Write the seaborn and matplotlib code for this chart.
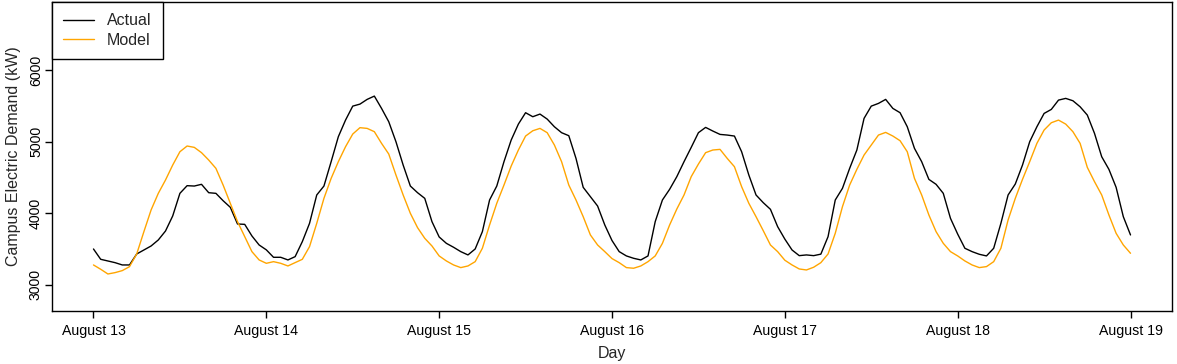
import pandas as pd
import numpy as np
import matplotlib.pyplot as plt
import matplotlib.dates as mdates
import seaborn as sns

# hourly campus demand (kW), Aug 13 00:00 -> Aug 19 00:00
actual = [
    3502, 3358, 3335, 3311, 3279, 3279, 3432, 3488, 3544, 3628, 3753, 3963,
    4279, 4386, 4381, 4405, 4288, 4279, 4176, 4084, 3851, 3846, 3684, 3558,
    3490, 3386, 3386, 3349, 3395, 3605, 3860, 4256, 4381, 4721, 5070, 5302,
    5497, 5525, 5591, 5637, 5465, 5279, 5000, 4674, 4381, 4288, 4209, 3884,
    3670, 3581, 3526, 3465, 3419, 3502, 3744, 4186, 4381, 4721, 5023, 5246,
    5405, 5349, 5386, 5316, 5209, 5126, 5084, 4767, 4363, 4232, 4102, 3837,
    3620, 3465, 3405, 3372, 3349, 3405, 3884, 4186, 4335, 4512, 4721, 4921,
    5126, 5200, 5149, 5102, 5093, 5079, 4860, 4535, 4256, 4149, 4056, 3814,
    3640, 3488, 3409, 3419, 3409, 3430, 3674, 4186, 4349, 4628, 4884, 5326,
    5497, 5535, 5591, 5465, 5405, 5209, 4907, 4721, 4474, 4405, 4279, 3930,
    3710, 3512, 3465, 3428, 3405, 3512, 3860, 4256, 4409, 4674, 5000, 5209,
    5395, 5451, 5581, 5605, 5572, 5488, 5372, 5116, 4790, 4614, 4363, 3953,
    3698,
]
model = [
    3279, 3219, 3153, 3172, 3200, 3255, 3432, 3744, 4047, 4279, 4465, 4674,
    4860, 4940, 4921, 4847, 4744, 4628, 4395, 4140, 3884, 3674, 3465, 3349,
    3302, 3325, 3302, 3265, 3311, 3358, 3535, 3860, 4209, 4488, 4721, 4930,
    5107, 5196, 5186, 5140, 4977, 4828, 4535, 4256, 4000, 3800, 3651, 3544,
    3405, 3335, 3279, 3242, 3265, 3325, 3512, 3837, 4140, 4395, 4660, 4884,
    5079, 5153, 5186, 5126, 4954, 4721, 4395, 4186, 3953, 3698, 3558, 3465,
    3368, 3311, 3242, 3233, 3265, 3325, 3405, 3581, 3837, 4060, 4256, 4512,
    4688, 4847, 4884, 4893, 4767, 4651, 4372, 4140, 3953, 3758, 3558, 3465,
    3345, 3279, 3223, 3209, 3247, 3311, 3432, 3721, 4093, 4395, 4614, 4814,
    4954, 5093, 5130, 5079, 5014, 4860, 4488, 4256, 3977, 3744, 3581, 3465,
    3405, 3335, 3279, 3242, 3256, 3325, 3512, 3907, 4209, 4474, 4721, 4977,
    5163, 5265, 5302, 5246, 5140, 4977, 4642, 4442, 4256, 3977, 3721, 3558,
    3442,
]
start = "2019-08-13"
y_ticks = [3000, 4000, 5000, 6000]
y_range = (2636, 6951)

times = pd.date_range(start, periods=len(actual), freq="h")
df = pd.concat([
    pd.DataFrame({"Day": times, "kW": actual, "series": "Actual"}),
    pd.DataFrame({"Day": times, "kW": model, "series": "Model"}),
])

sns.set_style("ticks")
plt.rcParams['font.family'] = ['Liberation Sans', 'DejaVu Sans']

fig = plt.figure(figsize=(11.77, 3.64), dpi=100)
ax = fig.add_axes([52 / 1177, 53 / 364, 1120 / 1177, 309 / 364])

sns.lineplot(data=df, x="Day", y="kW", hue="series",
             palette={"Actual": "black", "Model": "orange"},
             linewidth=1.0, ax=ax)

t0, t1 = mdates.date2num(times[0]), mdates.date2num(times[-1])
pad = (t1 - t0) * 0.04
ax.set_xlim(t0 - pad, t1 + pad)
ax.set_ylim(*y_range)
ax.set_yticks(y_ticks)
ax.xaxis.set_major_locator(mdates.DayLocator())
ax.xaxis.set_major_formatter(mdates.DateFormatter("%B %d"))

for s in ax.spines.values():
    s.set_visible(True)
    s.set_color("black")
    s.set_linewidth(1.0)
ax.tick_params(axis="both", direction="out", length=5, width=1, color="black",
               labelsize=10.2, labelcolor="black")
ax.tick_params(axis="x", pad=4)
ax.tick_params(axis="y", pad=1.5)
plt.setp(ax.get_yticklabels(), rotation=90, va="center")

ax.set_xlabel("Day", fontsize=11.5, labelpad=6)
ax.set_ylabel("Campus Electric Demand (kW)", fontsize=11.5, labelpad=6)

leg = ax.legend(loc="upper left", frameon=True, fancybox=False, borderaxespad=0,
                fontsize=11.5, handlelength=1.9, handletextpad=0.85,
                borderpad=0.7, labelspacing=0.3)
leg.get_frame().set_edgecolor("black")
leg.get_frame().set_linewidth(1.0)
leg.get_frame().set_alpha(1)

fig.savefig("out.png", dpi=100)
